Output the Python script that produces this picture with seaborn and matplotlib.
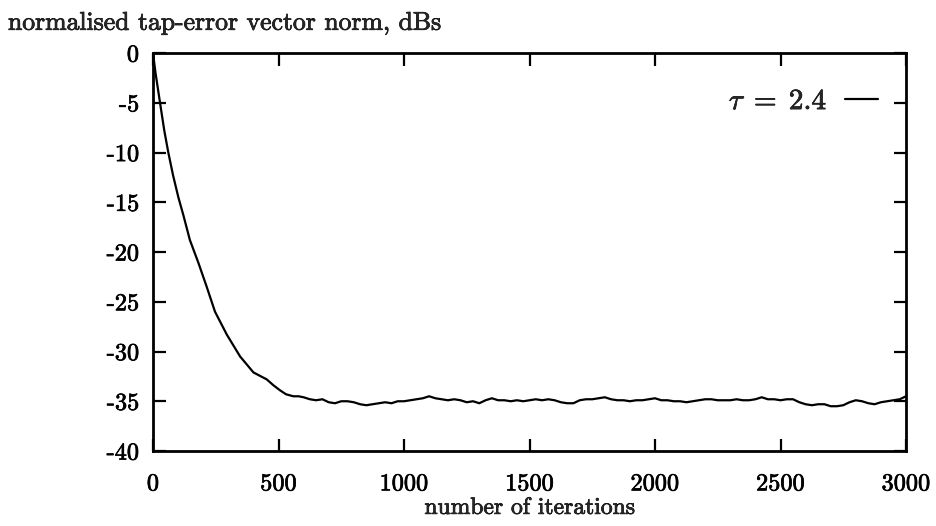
import numpy as np
import pandas as pd
import matplotlib
matplotlib.use("Agg")
import matplotlib.pyplot as plt
import matplotlib.patheffects as pe
import seaborn as sns

# ---- data ----
iters_early = [0, 10, 28, 45, 61, 80, 101, 121, 147, 181, 214, 247, 294, 347,
               400, 430, 453, 480, 506, 530, 559, 580]
norm_early = [0.0, -2.0, -5.0, -7.8, -10.0, -12.3, -14.5, -16.3, -18.8, -21.1,
              -23.5, -26.0, -28.3, -30.5, -32.1, -32.5, -32.8, -33.4, -33.9,
              -34.3, -34.5, -34.5]
iters_late = list(range(600, 3001, 25))
norm_late = [-34.6, -34.8, -34.9, -34.8, -35.1, -35.2, -35.0, -35.0, -35.1, -35.3,
             -35.4, -35.3, -35.2, -35.1, -35.2, -35.0, -35.0, -34.9, -34.8, -34.7,
             -34.5, -34.7, -34.8, -34.9, -34.8, -34.9, -35.1, -35.0, -35.2, -34.9,
             -34.7, -34.9, -34.9, -35.0, -34.9, -35.0, -34.9, -34.8, -34.9, -34.8,
             -34.9, -35.1, -35.2, -35.2, -34.9, -34.8, -34.8, -34.7, -34.6, -34.8,
             -34.9, -34.9, -35.0, -34.9, -34.9, -34.8, -34.7, -34.9, -34.9, -35.0,
             -35.0, -35.1, -35.0, -34.9, -34.8, -34.8, -34.9, -34.9, -34.9, -34.8,
             -34.9, -34.9, -34.8, -34.6, -34.8, -34.8, -34.9, -34.8, -34.8, -35.1,
             -35.3, -35.4, -35.3, -35.3, -35.5, -35.5, -35.4, -35.1, -34.9, -35.0,
             -35.2, -35.3, -35.1, -35.0, -34.9, -34.8, -34.5]
series_label = r"$\tau\;=\;2.4$"

x_ticks = [0, 500, 1000, 1500, 2000, 2500, 3000]
x_tick_labels = ["0", "500", "1000", "1500", "2000", "2500", "3000"]
y_ticks = [0, -5, -10, -15, -20, -25, -30, -35, -40]
y_tick_labels = ["0", "-5", "-10", "-15", "-20", "-25", "-30", "-35", "-40"]
title_text = "normalised tap-error vector norm, dBs"
x_label = "number of iterations"

df = pd.DataFrame({"iter": iters_early + iters_late,
                   "norm": norm_early + norm_late})

# ---- style ----
sns.set_style("ticks")
plt.rcParams["font.family"] = ["cmr10", "DejaVu Serif"]
plt.rcParams["mathtext.fontset"] = "cm"
plt.rcParams["axes.unicode_minus"] = False

thick = [pe.withStroke(linewidth=0.5, foreground="black")]

fig = plt.figure(figsize=(9.36, 5.26), dpi=100)
W, H = 936, 526
L, R, T, B = 153, 906, 53, 451
ax = fig.add_axes([L / W, 1 - B / H, (R - L) / W, (B - T) / H])

sns.lineplot(data=df, x="iter", y="norm", ax=ax, color="black",
             linewidth=1.6, label=series_label)

ax.set_xlim(0, 3000)
ax.set_ylim(-40, 0)
ax.set_xticks(x_ticks)
ax.set_xticklabels(x_tick_labels, fontsize=17.5)
ax.set_yticks(y_ticks)
ax.set_yticklabels(y_tick_labels, fontsize=17.5)
ax.set_xlabel(x_label, fontsize=17, labelpad=1)
ax.set_ylabel("")

for s in ax.spines.values():
    s.set_visible(True)
    s.set_linewidth(2.0)
    s.set_color("black")
ax.tick_params(direction="in", top=True, right=True, length=9, width=1.6,
               colors="black")
ax.tick_params(axis="x", pad=16)
ax.tick_params(axis="y", pad=10)

leg = ax.legend(loc="center right", bbox_to_anchor=(0.963, 0.877),
                frameon=False, markerfirst=False, handlelength=1.15,
                handletextpad=0.6, borderpad=0, borderaxespad=0,
                fontsize=21)

fig.text(8 / W, 1 - 23 / H, title_text, fontsize=18.5, ha="left", va="center")

for t in (ax.get_xticklabels() + ax.get_yticklabels() + [ax.xaxis.label]
          + fig.texts + leg.get_texts()):
    t.set_path_effects(thick)

fig.savefig("out.png", dpi=100, facecolor="white")
